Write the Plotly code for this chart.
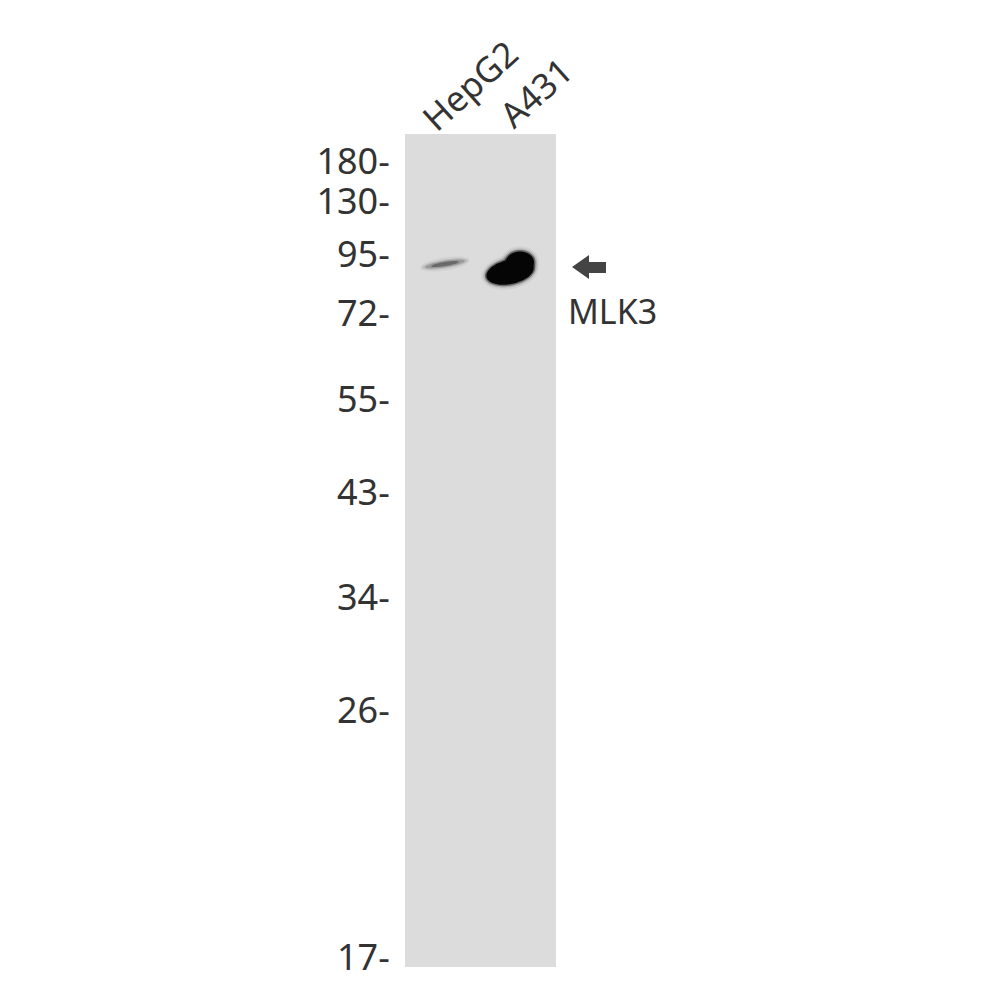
import numpy as np
import plotly.graph_objects as go

# ---- data ----
marker_labels = ["180", "130", "95", "72", "55", "43", "34", "26", "17"]
marker_migration = [161, 201, 254, 313, 399, 492, 597, 710, 957]  # migration (px from top)

lanes = ["HepG2", "A431"]
lane_center = [445, 511]
band_migration = [264, 270]
band_intensity = [0.45, 1.0]

target_label = "MLK3"

# ---- geometry / style ----
OFF = 8  # page body margin
BLOT_X0, BLOT_X1, BLOT_Y0, BLOT_Y1 = 405, 556, 134, 967
TEXT_COLOR = "#333333"
FONT = "Noto Sans"


def ellipse_path(cx, cy, rx, ry, angle_deg=0.0, n=60):
    t = np.linspace(0, 2 * np.pi, n, endpoint=False)
    a = np.deg2rad(angle_deg)
    xs = cx + rx * np.cos(t) * np.cos(a) - ry * np.sin(t) * np.sin(a)
    ys = cy + rx * np.cos(t) * np.sin(a) + ry * np.sin(t) * np.cos(a)
    pts = " L ".join(f"{x:.2f} {y:.2f}" for x, y in zip(xs, ys))
    return "M " + pts + " Z"


fig = go.Figure()
fig.add_trace(go.Scatter(x=[OFF, 1000], y=[OFF, 1000], mode="markers",
                         marker=dict(opacity=0), hoverinfo="skip", showlegend=False))

shapes = []
shapes.append(dict(type="rect", xref="x", yref="y", x0=BLOT_X0, x1=BLOT_X1,
                   y0=BLOT_Y0, y1=BLOT_Y1, fillcolor="#dcdcdc", line=dict(width=0),
                   layer="below"))

for lane, cx, cy, inten in zip(lanes, lane_center, band_migration, band_intensity):
    if inten < 0.9:
        for rx, ry, op, col in [(25, 6.5, 0.10, "#777777"), (23, 4.5, 0.20, "#6a6a6a"),
                                (20, 3.2, 0.35, "#5a5a5a"), (14, 2.0, 0.5, "#3a3a3a")]:
            shapes.append(dict(type="path", xref="x", yref="y",
                               path=ellipse_path(cx, cy, rx, ry, -9),
                               fillcolor=col, opacity=op, line=dict(width=0)))
    else:
        parts = [(cx - 1, cy + 2, 24, 12, -12), (cx + 9, cy - 8, 14, 10.5, 0)]
        for grow, op, col in [(5, 0.07, "#333333"), (3, 0.16, "#222222"),
                              (1.5, 0.45, "#111111"), (0, 1.0, "#050505")]:
            for (px, py, rx, ry, ang) in parts:
                shapes.append(dict(type="path", xref="x", yref="y",
                                   path=ellipse_path(px, py, rx + grow, ry + grow, ang),
                                   fillcolor=col, opacity=op, line=dict(width=0)))

shapes.append(dict(type="path", xref="x", yref="y",
                   path="M 572 267 L 589 255 L 589 262 L 606 262 L 606 273 L 589 273 L 589 279 Z",
                   fillcolor="#444444", line=dict(width=0)))
fig.update_layout(shapes=shapes)

annotations = []
label_pos = [(469, 85), (535, 92)]
for lane, (lx, ly) in zip(lanes, label_pos):
    annotations.append(dict(x=lx, y=ly, xref="x", yref="y", text=lane, showarrow=False,
                            textangle=-42, font=dict(family=FONT, size=35, color=TEXT_COLOR),
                            xanchor="center", yanchor="middle"))
annotations.append(dict(x=566, y=311, xref="x", yref="y", text=target_label, showarrow=False,
                        font=dict(family=FONT, size=34, color=TEXT_COLOR),
                        xanchor="left", yanchor="middle"))
fig.update_layout(annotations=annotations)

fig.update_layout(
    width=1000, height=1000,
    margin=dict(l=0, r=0, t=0, b=0),
    paper_bgcolor="white", plot_bgcolor="white",
    xaxis=dict(range=[OFF, 1000 + OFF], visible=False, fixedrange=True, domain=[0, 1]),
    yaxis=dict(range=[1000 + OFF, OFF], anchor="free", position=(BLOT_X0 - OFF) / 1000,
               tickvals=marker_migration, ticktext=[m + "-" for m in marker_labels],
               ticks="outside", ticklen=8, tickcolor="rgba(0,0,0,0)",
               tickfont=dict(family=FONT, size=36, color=TEXT_COLOR),
               showgrid=False, zeroline=False, showline=False, fixedrange=True),
    showlegend=False,
)

fig.write_html("out.html")
